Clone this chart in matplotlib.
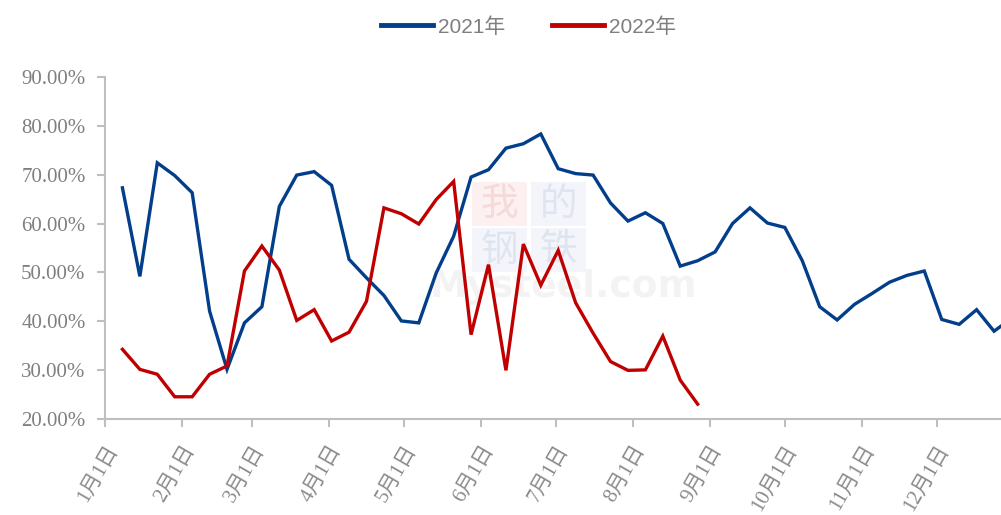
import matplotlib
matplotlib.use("Agg")
import matplotlib.pyplot as plt
from matplotlib.patches import Rectangle
import pandas as pd

# ---- data ----
start_date = "2022-01-08"
values_2021 = [67.3, 49.2, 72.4, 69.8, 66.3, 42.1, 30.2, 39.7, 43.0, 63.5,
               69.9, 70.6, 67.8, 52.7, 48.9, 45.3, 40.1, 39.7, 49.9, 57.4,
               69.5, 71.0, 75.4, 76.3, 78.3, 71.2, 70.2, 69.9, 64.2, 60.5,
               62.2, 60.0, 51.3, 52.4, 54.2, 60.0, 63.2, 60.1, 59.2, 52.4,
               43.0, 40.3, 43.5, 45.7, 48.0, 49.4, 50.3, 40.4, 39.4, 42.4,
               38.0, 40.6]
values_2022 = [34.3, 30.2, 29.2, 24.6, 24.6, 29.2, 30.9, 50.3, 55.4, 50.5,
               40.2, 42.4, 36.0, 37.8, 44.1, 63.2, 62.0, 59.9, 64.9, 68.6,
               37.3, 51.6, 30.0, 55.8, 47.4, 54.5, 43.8, 37.6, 31.8, 30.0,
               30.1, 37.0, 28.0, 23.1]
series_labels = ["2021年", "2022年"]
month_labels = [f"{m}月1日" for m in range(1, 13)]
y_ticks = [20, 30, 40, 50, 60, 70, 80, 90]

dates_2021 = pd.date_range(start_date, periods=len(values_2021), freq="7D")
dates_2022 = pd.date_range(start_date, periods=len(values_2022), freq="7D")
month_ticks = pd.date_range("2022-01-01", periods=12, freq="MS")

# ---- figure ----
fig = plt.figure(figsize=(10.01, 5.15), dpi=100)
ax = fig.add_axes([105 / 1001, 1 - 419.3 / 515, 1 - 105 / 1001, (419.3 - 76.7) / 515])

# faint watermark (2x2 tiles + site name)
bw, bh = 0.0614, 0.1285
tiles = [("我", 0.4096, 0.5642, "#f6d9d9", "#fdf0f0"),
         ("的", 0.4754, 0.5642, "#dfe5f0", "#f3f5fa"),
         ("钢", 0.4096, 0.4300, "#dfe5f0", "#f3f5fa"),
         ("铁", 0.4754, 0.4300, "#dfe5f0", "#f3f5fa")]
for ch, x0, y0, c, bg in tiles:
    ax.add_patch(Rectangle((x0, y0), bw, bh, transform=ax.transAxes, fc=bg,
                           ec="none", zorder=0))
    ax.text(x0 + bw / 2, y0 + bh / 2, ch, transform=ax.transAxes, fontsize=27,
            color=c, ha="center", va="center", zorder=0,
            family=["Noto Sans CJK SC"])
ax.text(0.511, 0.385, "Mysteel.com", transform=ax.transAxes, fontsize=27,
        color="#f3f3f3", ha="center", va="center", zorder=0, fontweight="bold")

blue = "#023e8a"
red = "#c00000"
ax.plot(dates_2021, values_2021, color=blue, lw=2.4, label=series_labels[0],
        solid_joinstyle="miter", zorder=3)
ax.plot(dates_2022, values_2022, color=red, lw=2.4, label=series_labels[1],
        solid_joinstyle="miter", zorder=3)

ax.set_ylim(20, 90)
ax.set_xlim(pd.Timestamp("2022-01-01"), pd.Timestamp("2022-01-01") + pd.Timedelta(days=359.8))

ax.set_yticks(y_ticks)
ax.set_yticklabels([f"{v:.2f}%" for v in y_ticks], fontsize=15,
                   family=["Liberation Serif", "DejaVu Serif"], color="#7f7f7f")
ax.set_xticks(month_ticks)
ax.set_xticklabels(month_labels, fontsize=15, rotation=60, ha="right", va="top",
                   rotation_mode="anchor",
                   family=["Liberation Serif", "Noto Sans CJK SC"], color="#8a8a8a")

for side in ["top", "right"]:
    ax.spines[side].set_visible(False)
for side in ["left", "bottom"]:
    ax.spines[side].set_color("#bfbfbf")
    ax.spines[side].set_linewidth(1.5)
ax.tick_params(axis="both", color="#bfbfbf", width=1.5, length=6, direction="out")
ax.tick_params(axis="y", pad=8)
ax.tick_params(axis="x", pad=10)

leg = fig.legend(loc="center", bbox_to_anchor=(0.528, 0.948), ncol=2, frameon=False,
                 handlelength=2.5, handletextpad=0.25, columnspacing=2.2,
                 prop={"family": ["Liberation Sans", "Noto Sans CJK SC"], "size": 15})
for t in leg.get_texts():
    t.set_color("#7f7f7f")
for h in leg.legend_handles:
    h.set_linewidth(3.5)

fig.savefig("out.png", dpi=100)
